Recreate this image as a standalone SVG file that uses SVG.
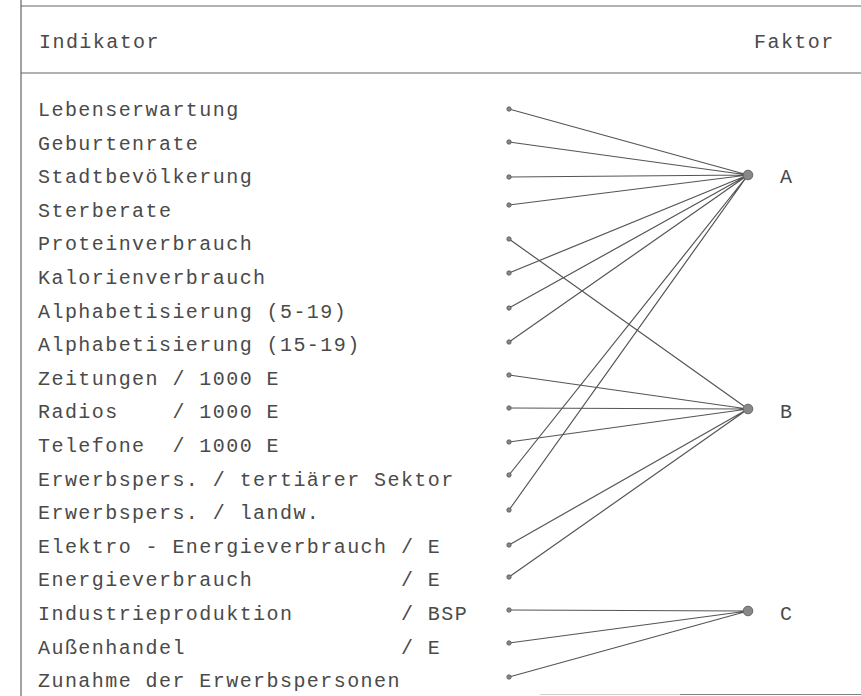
<svg xmlns="http://www.w3.org/2000/svg" width="861" height="696" viewBox="0 0 861 696">
<style>
.t{font-family:"Liberation Mono","DejaVu Sans Mono",monospace;font-size:20px;letter-spacing:1.44px;fill:#4a4a4a;white-space:pre}
.rule{stroke:#666;stroke-width:1.2;fill:none}
.c{stroke:#555;stroke-width:1.2;fill:none}
.sd{fill:#888;stroke:#555;stroke-width:0.8}
.bd{fill:#888;stroke:#666;stroke-width:1}
</style>
<rect width="861" height="696" fill="#fff"/>
<g id="frame">
<line class="rule" x1="21" y1="0" x2="21" y2="696"/>
<line class="rule" x1="21" y1="6" x2="861" y2="6"/>
<line class="rule" x1="21" y1="73" x2="861" y2="73"/>
<line x1="540" y1="694.5" x2="680" y2="694.5" stroke="#d0d0d0" stroke-width="1.2"/>
<line x1="680" y1="694.5" x2="861" y2="694.5" stroke="#808080" stroke-width="1.2"/>
</g>
<g id="header">
<text class="t" x="39" y="48">Indikator</text>
<text class="t" x="754" y="48">Faktor</text>
</g>
<g id="connectors">
<path class="c" d="M509 109L748 175M509 142L748 175M509 177L748 175M509 205L748 175M509 273L748 175M509 308L748 175M509 342L748 175M509 475L748 175M509 510L748 175"/>
<path class="c" d="M509 239L748 409M509 375L748 409M509 408L748 409M509 442L748 409M509 545L748 409M509 577L748 409"/>
<path class="c" d="M509 610L748 611M509 643L748 611M509 677L748 611"/>
</g>
<g id="indicators">
<g id="n0"><circle class="sd" cx="509" cy="109" r="2.2"/><text class="t" x="38" y="116">Lebenserwartung</text></g>
<g id="n1"><circle class="sd" cx="509" cy="142" r="2.2"/><text class="t" x="38" y="149.6">Geburtenrate</text></g>
<g id="n2"><circle class="sd" cx="509" cy="177" r="2.2"/><text class="t" x="38" y="183.2">Stadtbevölkerung</text></g>
<g id="n3"><circle class="sd" cx="509" cy="205" r="2.2"/><text class="t" x="38" y="216.8">Sterberate</text></g>
<g id="n4"><circle class="sd" cx="509" cy="239" r="2.2"/><text class="t" x="38" y="250.4">Proteinverbrauch</text></g>
<g id="n5"><circle class="sd" cx="509" cy="273" r="2.2"/><text class="t" x="38" y="284">Kalorienverbrauch</text></g>
<g id="n6"><circle class="sd" cx="509" cy="308" r="2.2"/><text class="t" x="38" y="317.6">Alphabetisierung (5-19)</text></g>
<g id="n7"><circle class="sd" cx="509" cy="342" r="2.2"/><text class="t" x="38" y="351.2">Alphabetisierung (15-19)</text></g>
<g id="n8"><circle class="sd" cx="509" cy="375" r="2.2"/><text class="t" x="38" y="384.8">Zeitungen / 1000 E</text></g>
<g id="n9"><circle class="sd" cx="509" cy="408" r="2.2"/><text class="t" x="38" y="418.4">Radios    / 1000 E</text></g>
<g id="n10"><circle class="sd" cx="509" cy="442" r="2.2"/><text class="t" x="38" y="452">Telefone  / 1000 E</text></g>
<g id="n11"><circle class="sd" cx="509" cy="475" r="2.2"/><text class="t" x="38" y="485.6">Erwerbspers. / tertiärer Sektor</text></g>
<g id="n12"><circle class="sd" cx="509" cy="510" r="2.2"/><text class="t" x="38" y="519.2">Erwerbspers. / landw.</text></g>
<g id="n13"><circle class="sd" cx="509" cy="545" r="2.2"/><text class="t" x="38" y="552.8">Elektro - Energieverbrauch / E</text></g>
<g id="n14"><circle class="sd" cx="509" cy="577" r="2.2"/><text class="t" x="38" y="586.4">Energieverbrauch           / E</text></g>
<g id="n15"><circle class="sd" cx="509" cy="610" r="2.2"/><text class="t" x="38" y="620">Industrieproduktion        / BSP</text></g>
<g id="n16"><circle class="sd" cx="509" cy="643" r="2.2"/><text class="t" x="38" y="653.6">Außenhandel                / E</text></g>
<g id="n17"><circle class="sd" cx="509" cy="677" r="2.2"/><text class="t" x="38" y="687.2">Zunahme der Erwerbspersonen</text></g>
</g>
<g id="factorA"><circle class="bd" cx="748" cy="175" r="4.8"/><text class="t" x="780" y="183">A</text></g>
<g id="factorB"><circle class="bd" cx="748" cy="409" r="4.8"/><text class="t" x="780" y="418">B</text></g>
<g id="factorC"><circle class="bd" cx="748" cy="611" r="4.8"/><text class="t" x="780" y="620">C</text></g>
</svg>
